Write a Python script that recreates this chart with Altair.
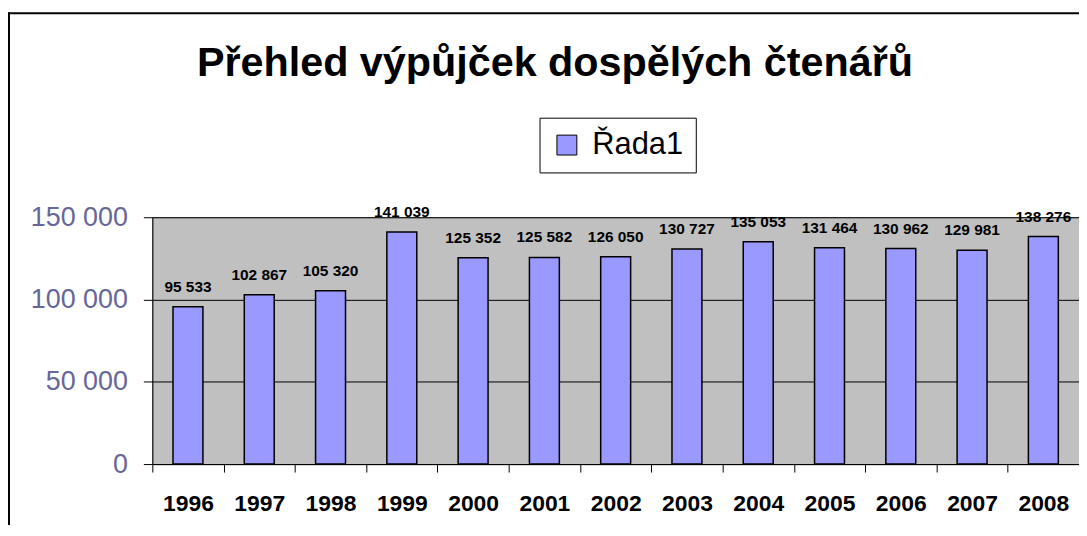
import altair as alt
import pandas as pd

years = ["1996", "1997", "1998", "1999", "2000", "2001", "2002", "2003", "2004", "2005", "2006", "2007", "2008"]
values = [95533, 102867, 105320, 141039, 125352, 125582, 126050, 130727, 135053, 131464, 130962, 129981, 138276]
series_name = "Řada1"
y_ticks = [0, 50000, 100000, 150000]

df = pd.DataFrame({
    "rok": years,
    "hodnota": values,
    "label": [f"{v:,}".replace(",", " ") for v in values],
    "serie": [series_name] * len(years),
})

FONT = "Liberation Sans"

x_enc = alt.X(
    "rok:N",
    sort=years,
    scale=alt.Scale(paddingInner=0, paddingOuter=0),
    axis=alt.Axis(
        title=None, labelAngle=0, labelFont=FONT, labelFontSize=23, labelFontWeight="bold",
        labelColor="black", labelPadding=21, tickSize=8, tickColor="black", tickWidth=1,
        domainColor="black", domainWidth=1, grid=False, tickBand="extent",
    ),
)
y_enc = alt.Y(
    "hodnota:Q",
    scale=alt.Scale(domain=[0, 150000], nice=False),
    axis=alt.Axis(
        title=None, values=y_ticks, labelFont=FONT, labelFontSize=27, labelColor="#666699",
        labelPadding=16, tickSize=9, tickColor="black", tickWidth=1, domainColor="black",
        domainWidth=1, grid=True, gridColor="black", gridWidth=1,
        labelExpr="replace(format(datum.value, ','), regexp(',', 'g'), ' ')",
    ),
)

bars = alt.Chart(df).mark_bar(
    width=alt.RelativeBandSize(0.42), stroke="black", strokeWidth=1.5
).encode(
    x=x_enc,
    y=y_enc,
    color=alt.Color(
        "serie:N",
        scale=alt.Scale(domain=[series_name], range=["#9999FF"]),
        title=None,
        legend=alt.Legend(
            orient="none", legendX=389, legendY=-100, symbolType="square", symbolSize=400,
            symbolStrokeColor="black", symbolStrokeWidth=1, padding=12, strokeColor="black",
            fillColor="white", labelFont=FONT, labelFontSize=31, labelColor="black",
            labelOffset=10, cornerRadius=0,
        ),
    ),
)

labels = alt.Chart(df).mark_text(
    baseline="alphabetic", dy=-15, font=FONT, fontSize=15.5, fontWeight="bold", color="black"
).encode(x=alt.X("rok:N", sort=years), y=alt.Y("hodnota:Q"), text="label:N")

# outer chart border (only top and left edges fall inside the picture)
one = pd.DataFrame({"a": [0]})
frame_top = alt.Chart(one).mark_rule(color="black", strokeWidth=2).encode(
    x=alt.value(-145), x2=alt.value(1000), y=alt.value(-205)
)
frame_left = alt.Chart(one).mark_rule(color="black", strokeWidth=2).encode(
    x=alt.value(-144), y=alt.value(-206), y2=alt.value(400)
)

chart = alt.layer(frame_top, frame_left, bars, labels).properties(
    width=931,
    height=248,
    padding={"left": 145, "top": 209, "right": 0, "bottom": 60},
    autosize=alt.AutoSizeParams(type="none"),
    title=alt.TitleParams(
        "Přehled výpůjček dospělých čtenářů", font=FONT, fontSize=41.5, fontWeight="bold",
        color="black", anchor="middle", frame="group", dx=-61, baseline="alphabetic", offset=-107,
    ),
).configure(
    background="white"
).configure_view(
    fill="#C0C0C0", stroke="#808080", strokeWidth=1
)

chart.save("out.html", embed_options={"renderer": "svg", "actions": False})
